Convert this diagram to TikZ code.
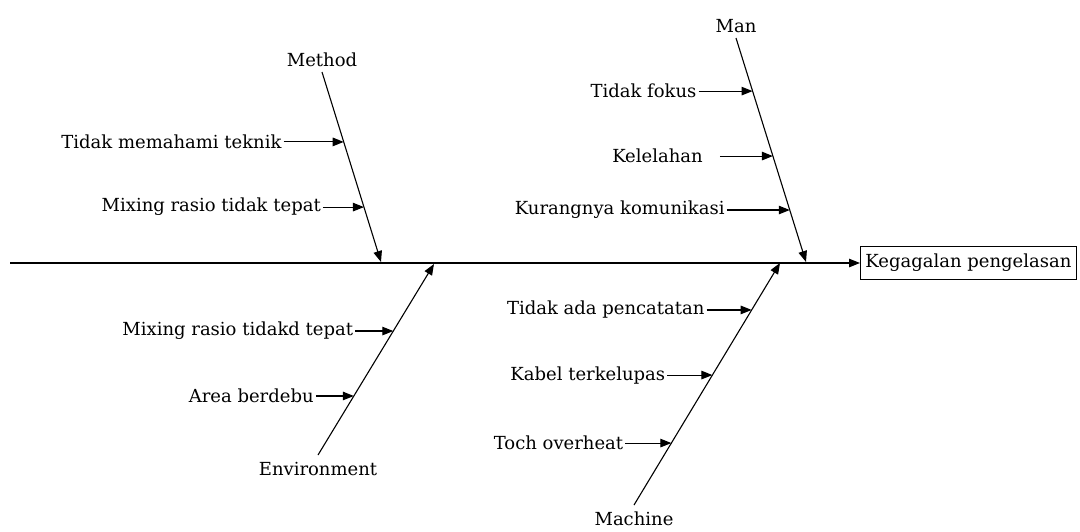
\documentclass[tikz,border=0pt]{standalone}
\usepackage{fontspec}
\setmainfont{DejaVu Serif}
\usetikzlibrary{arrows.meta, positioning, calc}

\begin{document}
\begin{tikzpicture}[x=1pt, y=-1pt,
    font=\fontsize{18}{21}\selectfont,
    arr/.style={-{Triangle[length=11pt, width=8.5pt]}, line width=1.1pt},
    cause/.style={inner sep=2pt},
    head/.style={inner sep=2pt}]
    \useasboundingbox (0,0) rectangle (1080,531);

    % --- Spine and effect ---
    \coordinate (S0) at (10,263);
    \node[draw, line width=0.9pt, anchor=west, inner xsep=5pt, inner ysep=8pt] (eff) at (860,263) {Kegagalan pengelasan};
    \draw[arr] (S0) -- (eff);

    % --- Method (top left) ---
    \coordinate (M0) at (322,72);
    \coordinate (M1) at (381,262);
    \node[head, above=3pt of M0] (method) {Method};
    \draw[arr] (M0) -- (M1);
    \coordinate (m1) at ($(M0)!0.368!(M1)$);
    \coordinate (m2) at ($(M0)!0.711!(M1)$);
    \node[cause, left=60pt of m1] (cm1) {Tidak memahami teknik};
    \node[cause, left=41pt of m2] (cm2) {Mixing rasio tidak tepat};
    \draw[arr] (cm1) -- (m1);
    \draw[arr] (cm2) -- (m2);

    % --- Man (top right) ---
    \coordinate (N0) at (736,38);
    \coordinate (N1) at (806,262);
    \node[head, above=3pt of N0] (man) {Man};
    \draw[arr] (N0) -- (N1);
    \coordinate (n1) at ($(N0)!0.237!(N1)$);
    \coordinate (n2) at ($(N0)!0.527!(N1)$);
    \coordinate (n3) at ($(N0)!0.768!(N1)$);
    \node[cause, left=54pt of n1] (cn1) {Tidak fokus};
    \node[cause, left=68pt of n2] (cn2) {Kelelahan};
    \node[cause, left=63pt of n3] (cn3) {Kurangnya komunikasi};
    \draw[arr] (cn1) -- (n1);
    \draw[arr] ([xshift=15pt]cn2.east) -- (n2); % gap after text
    \draw[arr] (cn3) -- (n3);

    % --- Environment (bottom left) ---
    \coordinate (E0) at (318,455);
    \coordinate (E1) at (434,264);
    \node[head, below=5pt of E0] (env) {Environment};
    \draw[arr] (E0) -- (E1);
    \coordinate (e1) at ($(E0)!0.649!(E1)$);
    \coordinate (e2) at ($(E0)!0.309!(E1)$);
    \node[cause, left=38pt of e1] (ce1) {Mixing rasio tidakd tepat};
    \node[cause, left=38pt of e2] (ce2) {Area berdebu};
    \draw[arr] (ce1) -- (e1);
    \draw[arr] (ce2) -- (e2);

    % --- Machine (bottom right) ---
    \coordinate (K0) at (634,505);
    \coordinate (K1) at (780,263);
    \node[head, below=5pt of K0] (machine) {Machine};
    \draw[arr] (K0) -- (K1);
    \coordinate (k1) at ($(K0)!0.806!(K1)$);
    \coordinate (k2) at ($(K0)!0.537!(K1)$);
    \coordinate (k3) at ($(K0)!0.256!(K1)$);
    \node[cause, left=45pt of k1] (ck1) {Tidak ada pencatatan};
    \node[cause, left=45pt of k2] (ck2) {Kabel terkelupas};
    \node[cause, left=46pt of k3] (ck3) {Toch overheat};
    \draw[arr] (ck1) -- (k1);
    \draw[arr] (ck2) -- (k2);
    \draw[arr] (ck3) -- (k3);
\end{tikzpicture}
\end{document}
